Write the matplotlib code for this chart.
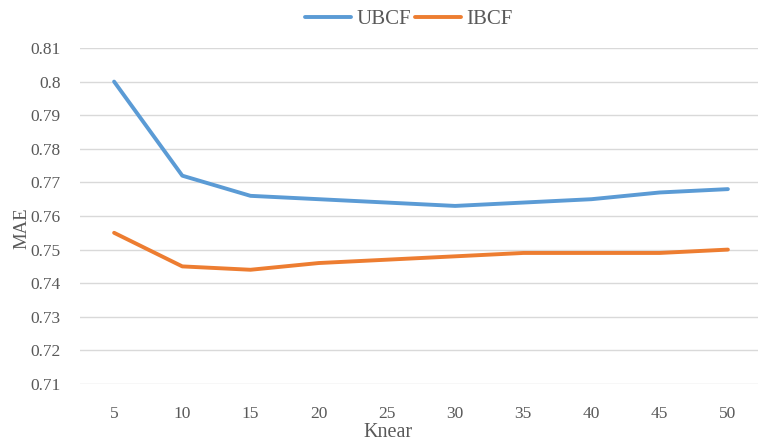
import matplotlib.pyplot as plt
import numpy as np

# data
knear = [5, 10, 15, 20, 25, 30, 35, 40, 45, 50]
ubcf = [0.800, 0.772, 0.766, 0.765, 0.764, 0.763, 0.764, 0.765, 0.767, 0.768]
ibcf = [0.755, 0.745, 0.744, 0.746, 0.747, 0.748, 0.749, 0.749, 0.749, 0.750]
yticks = [0.71, 0.72, 0.73, 0.74, 0.75, 0.76, 0.77, 0.78, 0.79, 0.8, 0.81]

plt.rcParams['font.family'] = ['Liberation Serif', 'DejaVu Serif']
grey = '#595959'

fig = plt.figure(figsize=(7.58, 4.41), dpi=100)
ax = fig.add_axes([80 / 758, 57 / 441, 682 / 758, 336 / 441])

# category axis, Excel style: points sit in the middle of each slot
pos = np.arange(len(knear))
ax.plot(pos, ubcf, color='#5B9BD5', lw=2.8, label='UBCF', solid_capstyle='round')
ax.plot(pos, ibcf, color='#ED7D31', lw=2.8, label='IBCF', solid_capstyle='round')

ax.set_xlim(-0.5, len(knear) - 0.5)
ax.set_ylim(0.71, 0.81)
ax.set_xticks(pos)
ax.set_xticklabels([str(k) for k in knear])
ax.set_yticks(yticks)
ax.set_yticklabels(['%g' % v for v in yticks])
ax.tick_params(length=0, labelsize=12.5, colors=grey)
ax.tick_params(axis='y', pad=14)
ax.tick_params(axis='x', pad=16)

ax.grid(axis='y', color='#D9D9D9', lw=1)
ax.set_axisbelow(True)
for s in ax.spines.values():
    s.set_visible(False)

ax.set_xlabel('Knear', fontsize=14.5, color=grey, va='center')
ax.xaxis.set_label_coords(0.452, -0.143)
ax.set_ylabel('MAE', fontsize=13.5, color=grey, va='center')
ax.yaxis.set_label_coords(-0.085, 0.464)

leg = fig.legend(loc='center', bbox_to_anchor=(409 / 758, 1 - 19 / 441), ncol=2,
                 frameon=False, fontsize=15, handlelength=2.2, handletextpad=0.25,
                 columnspacing=0.2, labelcolor=grey)

fig.savefig('out.png', dpi=100)
